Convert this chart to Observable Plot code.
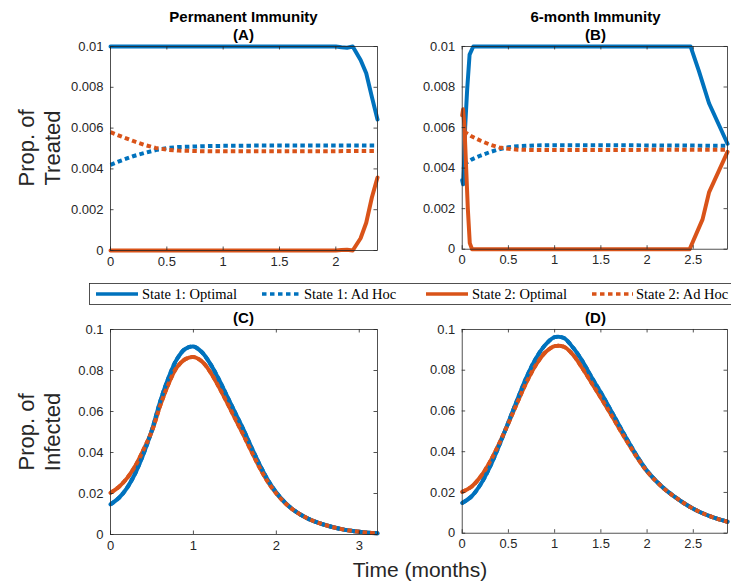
<!DOCTYPE html>
<html><head><meta charset="utf-8">
<script src="https://cdn.jsdelivr.net/npm/d3@7"></script>
<script src="https://cdn.jsdelivr.net/npm/@observablehq/plot@0.6"></script>
<style>
body{margin:0;width:731px;height:588px;overflow:hidden;position:relative;background:#fff;font-family:"Liberation Sans",Arial,Helvetica,sans-serif;color:#262626}
.abs{position:absolute}
.title{position:absolute;width:240px;font-weight:bold;font-size:15px;line-height:18px;text-align:center;color:#000}
.ylab{position:absolute;width:120px;height:52px;font-size:22px;line-height:26px;text-align:center;white-space:nowrap;transform:rotate(-90deg);color:#262626}
.xlab{position:absolute;width:240px;font-size:21px;line-height:24px;text-align:center;color:#262626}
</style></head><body>
<script>
// ---------- data ----------
const blue = "#0072BD", red = "#D95319";
const legendLabels = ["State 1: Optimal", "State 1: Ad Hoc", "State 2: Optimal", "State 2: Ad Hoc"];
const titles = ["Permanent Immunity", "6-month Immunity"];
const panelTags = ["(A)", "(B)", "(C)", "(D)"];

const ticksTreated = [0, 0.002, 0.004, 0.006, 0.008, 0.01];
const ticksInfected = [0, 0.02, 0.04, 0.06, 0.08, 0.1];
const ticksA = [0, 0.5, 1, 1.5, 2];
const ticksB = [0, 0.5, 1, 1.5, 2, 2.5];
const ticksC = [0, 1, 2, 3];
const ticksD = [0, 0.5, 1, 1.5, 2, 2.5];

// Panel A: treated, permanent immunity
const tA_opt = [0, 0.5, 1, 1.5, 2, 2.05, 2.1, 2.15, 2.22, 2.27, 2.32, 2.37];
const A_opt1 = [0.01, 0.01, 0.01, 0.01, 0.01, 0.00996, 0.00994, 0.01, 0.00934, 0.00869, 0.00753, 0.00642];
const A_opt2 = [0, 0, 0, 0, 0, 0.00002, 0.00004, 0, 0.0006, 0.00136, 0.0026, 0.00358];
const tA_ad = [0, 0.1, 0.2, 0.3, 0.4, 0.5, 0.6, 0.8, 1.0, 1.5, 2.0, 2.37];
const A_ad1 = [0.0042, 0.00442, 0.00462, 0.00478, 0.00492, 0.00502, 0.00507, 0.00511, 0.00513, 0.00515, 0.00515, 0.00515];
const A_ad2 = [0.0058, 0.00558, 0.00537, 0.00518, 0.00503, 0.00494, 0.0049, 0.00487, 0.00486, 0.00486, 0.00487, 0.00488];

// Panel B: treated, 6-month immunity
const tB_opt1 = [0, 0.01, 0.018, 0.032, 0.054, 0.08, 0.12, 0.5, 1, 1.5, 2, 2.47, 2.56, 2.67, 2.78, 2.87];
const B_opt1 = [0.0034, 0.0032, 0.004, 0.006, 0.0079, 0.0096, 0.01, 0.01, 0.01, 0.01, 0.01, 0.01, 0.0088, 0.0072, 0.0061, 0.0052];
const tB_opt2 = [0, 0.01, 0.025, 0.043, 0.061, 0.082, 0.107, 0.5, 1, 1.5, 2, 2.46, 2.6, 2.67, 2.78, 2.87];
const B_opt2 = [0.0066, 0.0069, 0.006, 0.004, 0.002, 0.0003, 0, 0, 0, 0, 0, 0, 0.00147, 0.0028, 0.0039, 0.0048];
const tB_ad = [0.02, 0.1, 0.2, 0.3, 0.4, 0.5, 0.6, 0.8, 1.0, 1.5, 2.0, 2.5, 2.87];
const B_ad1 = [0.0042, 0.00442, 0.00462, 0.00479, 0.00493, 0.00503, 0.00508, 0.00512, 0.00513, 0.00513, 0.00512, 0.00511, 0.0051];
const B_ad2 = [0.0058, 0.00557, 0.00535, 0.00516, 0.00502, 0.00495, 0.00491, 0.00489, 0.00489, 0.00489, 0.0049, 0.0049, 0.0049];

// Panel C: infected, permanent immunity
const tC = [0, 0.1, 0.2, 0.3, 0.4, 0.5, 0.6, 0.7, 0.8, 0.9, 1.0, 1.1, 1.2, 1.3, 1.4, 1.5, 1.6, 1.7, 1.8, 1.9, 2.0,
            2.1, 2.2, 2.3, 2.4, 2.5, 2.6, 2.7, 2.8, 2.9, 3.0, 3.1, 3.22];
const C_1 = [0.0147, 0.0178, 0.0228, 0.030, 0.0395, 0.051, 0.065, 0.0765, 0.0855, 0.0905, 0.0917, 0.089, 0.0835, 0.0762, 0.068, 0.0597, 0.0515, 0.0425, 0.034, 0.0265, 0.0205,
             0.0158, 0.0122, 0.0095, 0.0074, 0.0058, 0.0045, 0.0034, 0.0025, 0.0018, 0.0013, 0.0009, 0.0006];
const C_2 = [0.0203, 0.0232, 0.0275, 0.0335, 0.0415, 0.0505, 0.063, 0.0735, 0.0815, 0.0855, 0.0866, 0.0845, 0.0795, 0.0725, 0.0648, 0.0568, 0.0488, 0.0405, 0.0325, 0.0255, 0.020,
             0.0156, 0.0121, 0.0095, 0.0074, 0.0058, 0.0045, 0.0034, 0.0025, 0.0018, 0.0013, 0.0009, 0.0006];

// Panel D: infected, 6-month immunity
const tD = [0, 0.1, 0.2, 0.3, 0.4, 0.5, 0.6, 0.7, 0.8, 0.9, 1.0, 1.1, 1.2, 1.3, 1.4, 1.5, 1.6, 1.7, 1.8, 1.9, 2.0,
            2.1, 2.2, 2.3, 2.4, 2.5, 2.6, 2.7, 2.8, 2.87];
const D_1 = [0.0148, 0.018, 0.024, 0.0325, 0.043, 0.0545, 0.066, 0.077, 0.086, 0.0925, 0.0962, 0.0958, 0.091, 0.0845, 0.0765, 0.069, 0.061, 0.0528, 0.0448, 0.0372, 0.0306,
             0.0255, 0.0213, 0.0178, 0.0147, 0.012, 0.0098, 0.008, 0.0065, 0.0056];
const D_2 = [0.0203, 0.0228, 0.0278, 0.035, 0.044, 0.054, 0.0645, 0.0745, 0.0828, 0.0888, 0.0918, 0.0915, 0.0875, 0.081, 0.0738, 0.0665, 0.059, 0.0513, 0.0438, 0.0366, 0.0303,
             0.0254, 0.0212, 0.0178, 0.0147, 0.012, 0.0098, 0.008, 0.0065, 0.0056];

// ---------- drawing ----------
const rows = (t, v) => t.map((x, i) => ({t: x, v: v[i]}));
const fmt = d => String(d);
const ink = "#262626";

function panel({left, top, innerW, innerH, xmax, xt, ymax, yt, series, curve}) {
  const mL = 50, mR = 4, mT = 4, mB = 28;
  const tick = 3.5;
  const marks = [];
  for (const s of series) {
    marks.push(Plot.line(rows(s.t, s.v), {
      x: "t", y: "v", stroke: s.color, strokeWidth: 4,
      strokeDasharray: s.dash ? "4.5,3.2" : null,
      strokeLinecap: s.dash ? "butt" : "round",
      strokeLinejoin: "round",
      curve
    }));
  }
  marks.push(
    Plot.frame({stroke: ink, strokeWidth: 0.8}),
    Plot.tickX(xt, {x: d => d, stroke: ink, strokeWidth: 0.8, insetTop: innerH - tick}),
    Plot.tickX(xt, {x: d => d, stroke: ink, strokeWidth: 0.8, insetBottom: innerH - tick}),
    Plot.tickY(yt, {y: d => d, stroke: ink, strokeWidth: 0.8, insetRight: innerW - tick}),
    Plot.tickY(yt, {y: d => d, stroke: ink, strokeWidth: 0.8, insetLeft: innerW - tick}),
    Plot.axisX({ticks: xt, tickFormat: fmt, tickSize: 0, tickPadding: 6, label: null}),
    Plot.axisY({ticks: yt, tickFormat: fmt, tickSize: 0, tickPadding: 7, label: null})
  );
  const svg = Plot.plot({
    width: mL + innerW + mR, height: mT + innerH + mB,
    marginLeft: mL, marginRight: mR, marginTop: mT, marginBottom: mB,
    x: {domain: [0, xmax]},
    y: {domain: [0, ymax]},
    style: {fontFamily: '"Liberation Sans", Arial, Helvetica, sans-serif', fontSize: "13px", color: ink, background: "transparent", overflow: "visible"},
    marks
  });
  const wrap = document.createElement("div");
  wrap.className = "abs";
  wrap.style.left = (left - mL) + "px";
  wrap.style.top = (top - mT) + "px";
  wrap.appendChild(svg);
  document.body.appendChild(wrap);
}

const S = (t, v, color, dash) => ({t, v, color, dash});

panel({left: 110, top: 46, innerW: 267, innerH: 204, xmax: 2.37, xt: ticksA, ymax: 0.01, yt: ticksTreated, curve: "linear",
  series: [S(tA_opt, A_opt1, blue, false), S(tA_ad, A_ad1, blue, true), S(tA_opt, A_opt2, red, false), S(tA_ad, A_ad2, red, true)]});
panel({left: 462, top: 46, innerW: 267, innerH: 204, xmax: 2.87, xt: ticksB, ymax: 0.01, yt: ticksTreated, curve: "linear",
  series: [S(tB_opt1, B_opt1, blue, false), S(tB_ad, B_ad1, blue, true), S(tB_opt2, B_opt2, red, false), S(tB_ad, B_ad2, red, true)]});
panel({left: 110, top: 329, innerW: 267, innerH: 205, xmax: 3.22, xt: ticksC, ymax: 0.1, yt: ticksInfected, curve: "catmull-rom",
  series: [S(tC, C_2, red, false), S(tC, C_1, blue, false), S(tC, C_1, blue, true), S(tC, C_2, red, true)]});
panel({left: 462, top: 329, innerW: 267, innerH: 205, xmax: 2.87, xt: ticksD, ymax: 0.1, yt: ticksInfected, curve: "catmull-rom",
  series: [S(tD, D_2, red, false), S(tD, D_1, blue, false), S(tD, D_1, blue, true), S(tD, D_2, red, true)]});

// titles
function addDiv(cls, html, left, top) {
  const d = document.createElement("div");
  d.className = cls; d.innerHTML = html;
  d.style.left = left + "px"; d.style.top = top + "px";
  document.body.appendChild(d);
}
addDiv("title", titles[0] + "<br>" + panelTags[0], 243.5 - 120, 8);
addDiv("title", titles[1] + "<br>" + panelTags[1], 595.5 - 120, 8);
addDiv("title", panelTags[2], 243.5 - 120, 309);
addDiv("title", panelTags[3], 595.5 - 120, 309);
addDiv("ylab", "Prop. of<br>Treated", 40 - 60, 148 - 26);
addDiv("ylab", "Prop. of<br>Infected", 40 - 60, 431.5 - 26);
addDiv("xlab", "Time (months)", 420 - 120, 558);

// legend
const lg = d3.create("svg").attr("width", 731).attr("height", 30)
  .style("position", "absolute").style("left", "0px").style("top", "279px");
lg.append("rect").attr("x", 89.5).attr("y", 4.5).attr("width", 700).attr("height", 21)
  .attr("fill", "#fff").attr("stroke", ink).attr("stroke-width", 0.8);
const legendItems = [
  {x1: 96, x2: 138, tx: 142, color: blue, dash: false},
  {x1: 262, x2: 302, tx: 304, color: blue, dash: true},
  {x1: 426, x2: 468, tx: 472, color: red, dash: false},
  {x1: 592, x2: 633, tx: 636, color: red, dash: true}
];
legendItems.forEach((it, i) => {
  lg.append("line").attr("x1", it.x1).attr("x2", it.x2).attr("y1", 15).attr("y2", 15)
    .attr("stroke", it.color).attr("stroke-width", 3.5)
    .attr("stroke-dasharray", it.dash ? "4.5,3.5" : null);
  lg.append("text").attr("x", it.tx).attr("y", 15).attr("dy", "0.35em")
    .attr("font-family", '"Liberation Serif", "DejaVu Serif", serif').attr("font-size", 14.5)
    .attr("fill", "#000").text(legendLabels[i]);
});
document.body.appendChild(lg.node());
</script>
</body></html>
